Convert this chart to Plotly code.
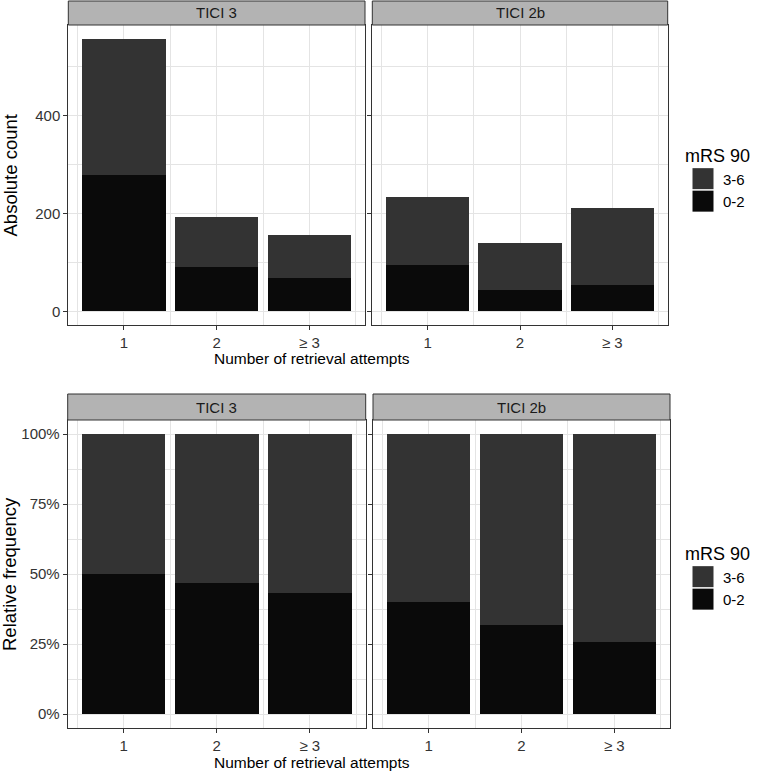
import plotly.graph_objects as go
from plotly.subplots import make_subplots

attempts = [1, 2, 3]
attempt_labels = ["1", "2", "≥ 3"]
facets = ["TICI 3", "TICI 2b"]

# absolute counts (mRS 90 groups)
good_tici3 = [279, 91, 68]      # 0-2
poor_tici3 = [279, 103, 89]     # 3-6
good_tici2b = [94, 44, 54]
poor_tici2b = [140, 95, 157]

COL_GOOD = "#0a0a0a"
COL_POOR = "#333333"
FONT = "Liberation Sans, Arial, Helvetica, sans-serif"
W, H = 762, 772
GRID = "#e4e4e4"

def px_x(p):
    return p / W

def px_y(p):
    return 1 - p / H

fig = make_subplots(rows=2, cols=2)

data = {
    "TICI 3": (good_tici3, poor_tici3),
    "TICI 2b": (good_tici2b, poor_tici2b),
}

for ci, facet in enumerate(facets, start=1):
    good, poor = data[facet]
    tot = [g + p for g, p in zip(good, poor)]
    rel_good = [g / t for g, t in zip(good, tot)]
    rel_poor = [p / t for p, t in zip(poor, tot)]
    # top row: absolute
    fig.add_trace(go.Bar(x=attempts, y=good, name="0-2", marker_color=COL_GOOD,
                         marker_line_width=0, width=0.9, legendgroup="g",
                         showlegend=(ci == 1), legend="legend"), row=1, col=ci)
    fig.add_trace(go.Bar(x=attempts, y=poor, name="3-6", marker_color=COL_POOR,
                         marker_line_width=0, width=0.9, legendgroup="p",
                         showlegend=(ci == 1), legend="legend"), row=1, col=ci)
    # bottom row: relative
    fig.add_trace(go.Bar(x=attempts, y=rel_good, name="0-2", marker_color=COL_GOOD,
                         marker_line_width=0, width=0.9, legendgroup="g2",
                         showlegend=(ci == 1), legend="legend2"), row=2, col=ci)
    fig.add_trace(go.Bar(x=attempts, y=rel_poor, name="3-6", marker_color=COL_POOR,
                         marker_line_width=0, width=0.9, legendgroup="p2",
                         showlegend=(ci == 1), legend="legend2"), row=2, col=ci)

# panel geometry (pixels)
top_y = (25, 325)
top_strip = (1, 25)
bot_y = (420, 728)
bot_strip = (394, 420)
top_x = [(68.3, 365), (372.3, 667.7)]
bot_x = [(67.7, 365.7), (373, 670)]

axis_common = dict(
    showline=True, linecolor="#333333", linewidth=1, mirror=True,
    gridcolor=GRID, gridwidth=1,
    ticks="outside", ticklen=4, tickcolor="#333333",
    tickfont=dict(family=FONT, size=15, color="#333333"),
    zeroline=False,
    minor=dict(showgrid=True, gridcolor=GRID, gridwidth=0.6),
)

for r, (ys, xs) in enumerate([(top_y, top_x), (bot_y, bot_x)], start=1):
    for c in (1, 2):
        idx = (r - 1) * 2 + c
        xa = "xaxis" + ("" if idx == 1 else str(idx))
        ya = "yaxis" + ("" if idx == 1 else str(idx))
        fig.layout[xa].update(
            domain=[px_x(xs[c - 1][0]), px_x(xs[c - 1][1])],
            range=[0.4, 3.6], tickvals=attempts, ticktext=attempt_labels,
            **axis_common)
        fig.layout[xa].minor.update(tickvals=[0.5, 1.5, 2.5, 3.5], ticks="")
        if r == 1:
            fig.layout[ya].update(domain=[px_y(ys[1]), px_y(ys[0])],
                                  range=[-27.9, 585.9], tickvals=[0, 200, 400],
                                  **axis_common)
            fig.layout[ya].minor.update(tickvals=[100, 300, 500], ticks="")
        else:
            fig.layout[ya].update(domain=[px_y(ys[1]), px_y(ys[0])],
                                  range=[-0.05, 1.05], tickvals=[0, 0.25, 0.5, 0.75, 1],
                                  tickformat=".0%", **axis_common)
            fig.layout[ya].minor.update(tickvals=[0.125, 0.375, 0.625, 0.875], ticks="")
        if c == 2:
            fig.layout[ya].showticklabels = False

# strips
for (sy, xs) in [(top_strip, top_x), (bot_strip, bot_x)]:
    for c, facet in enumerate(facets):
        x0, x1 = xs[c]
        fig.add_shape(type="rect", xref="paper", yref="paper",
                      x0=px_x(x0), x1=px_x(x1), y0=px_y(sy[1]), y1=px_y(sy[0]),
                      fillcolor="#b3b3b3", line=dict(color="#333333", width=1))
        fig.add_annotation(xref="paper", yref="paper", x=px_x((x0 + x1) / 2),
                           y=px_y((sy[0] + sy[1]) / 2), text=facet, showarrow=False,
                           font=dict(family=FONT, size=15, color="#1a1a1a"),
                           xanchor="center", yanchor="middle")

# axis titles
xtitle_font = dict(family=FONT, size=15.5, color="#000000")
ytitle_font = dict(family=FONT, size=18.5, color="#000000")
fig.add_annotation(xref="paper", yref="paper", x=px_x(311.5), y=px_y(358.5),
                   text="Number of retrieval attempts", showarrow=False,
                   font=xtitle_font, xanchor="center", yanchor="middle")
fig.add_annotation(xref="paper", yref="paper", x=px_x(311.5), y=px_y(762.5),
                   text="Number of retrieval attempts", showarrow=False,
                   font=xtitle_font, xanchor="center", yanchor="middle")
fig.add_annotation(xref="paper", yref="paper", x=px_x(10), y=px_y(175.5),
                   text="Absolute count", showarrow=False, textangle=-90,
                   font=ytitle_font, xanchor="center", yanchor="middle")
fig.add_annotation(xref="paper", yref="paper", x=px_x(9), y=px_y(574),
                   text="Relative frequency", showarrow=False, textangle=-90,
                   font=ytitle_font, xanchor="center", yanchor="middle")

legend_common = dict(
    title=dict(text="mRS 90", font=dict(family=FONT, size=18, color="#000000")),
    font=dict(family=FONT, size=15, color="#000000"),
    bgcolor="rgba(0,0,0,0)", xanchor="left", yanchor="top",
    traceorder="reversed", itemwidth=30,
)
fig.update_layout(
    barmode="stack",
    bargap=0.1,
    width=W, height=H,
    margin=dict(l=0, r=0, t=0, b=0),
    plot_bgcolor="white", paper_bgcolor="white",
    legend=dict(x=px_x(683), y=px_y(139), **legend_common),
    legend2=dict(x=px_x(683), y=px_y(537), **legend_common),
)

post_js = """
document.body.style.margin = '0';
var gd = document.getElementById('{plot_id}');
function fixKeys() {
  document.querySelectorAll('g.legendpoints path').forEach(function (p) {
    p.setAttribute('d', 'M10.5,10.5H-10.5V-10.5H10.5Z');
  });
}
fixKeys();
if (gd && gd.on) { gd.on('plotly_afterplot', fixKeys); }
setTimeout(fixKeys, 200);
"""

fig.write_html("out.html", post_script=post_js, config={"displayModeBar": False})
